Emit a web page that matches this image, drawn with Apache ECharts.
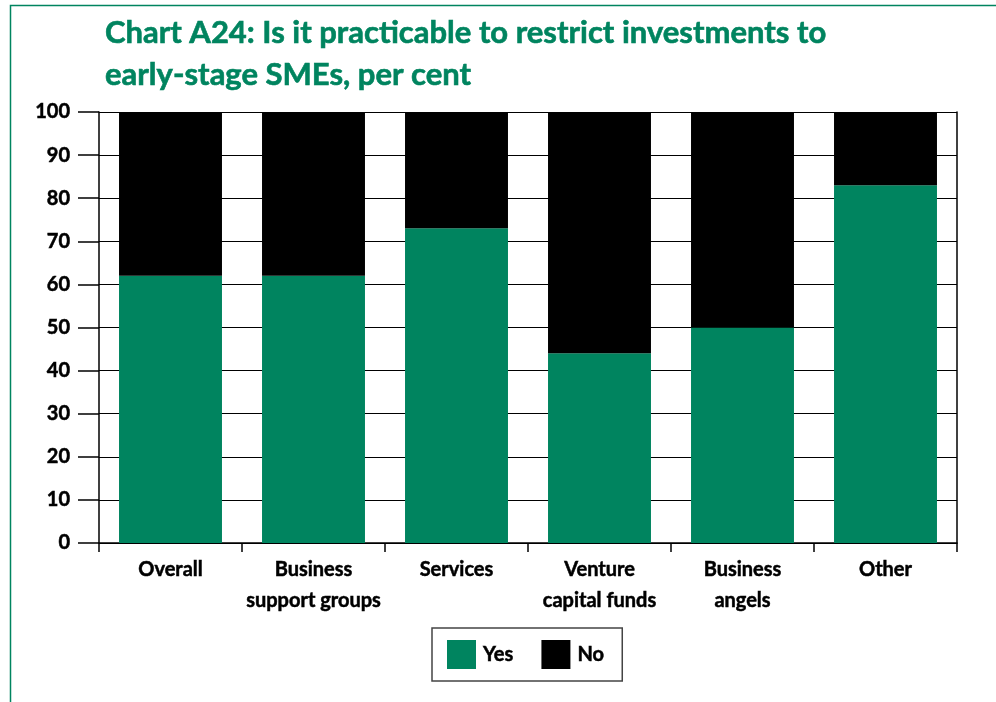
<!DOCTYPE html>
<html>
<head>
<meta charset="utf-8">
<style>
  html, body { margin: 0; padding: 0; background: #fff; }
  #chart { width: 996px; height: 702px; }
</style>
<script src="https://cdn.jsdelivr.net/npm/echarts@6/dist/echarts.min.js"></script>
</head>
<body>
<div id="chart"></div>
<script>
// Survey responses by respondent group, per cent
const categories = ['Overall', 'Business\nsupport groups', 'Services', 'Venture\ncapital funds', 'Business\nangels', 'Other'];
const yesValues = [62, 62, 73, 44, 50, 83];
const noValues = [38, 38, 27, 56, 50, 17];
const yTicks = [0, 10, 20, 30, 40, 50, 60, 70, 80, 90, 100];

const GREEN = '#00845f';
const FONT = 'Lato, "Open Sans", sans-serif';

const chart = echarts.init(document.getElementById('chart'), null, { renderer: 'canvas' });

chart.setOption({
  animation: false,
  backgroundColor: '#ffffff',
  title: {
    text: 'Chart A24: Is it practicable to restrict investments to\nearly-stage SMEs, per cent',
    left: 100,
    top: 7,
    textStyle: {
      color: GREEN,
      fontFamily: FONT,
      fontWeight: 'bold',
      fontSize: 31,
      lineHeight: 42,
      textBorderColor: GREEN,
      textBorderWidth: 0.6
    }
  },
  graphic: [
    {
      type: 'polyline',
      shape: { points: [[10.5, 702], [10.5, 5.5], [996, 5.5]] },
      style: { stroke: GREEN, lineWidth: 1.5, fill: null },
      silent: true
    }
  ],
  legend: {
    data: ['Yes', 'No'],
    left: 432,
    top: 628,
    width: 193,
    height: 55,
    padding: [12, 18, 12, 15],
    itemGap: 28,
    itemWidth: 29,
    itemHeight: 29,
    icon: 'rect',
    borderColor: '#444',
    borderWidth: 1.5,
    borderRadius: 0,
    selectedMode: false,
    textStyle: {
      fontFamily: FONT,
      fontWeight: 'bold',
      fontSize: 20,
      color: '#000',
      textBorderColor: '#000',
      textBorderWidth: 0.5,
      padding: [2, 0, 0, 2]
    }
  },
  grid: {
    left: 99,
    right: 39,
    top: 112,
    bottom: 159,
    containLabel: false
  },
  xAxis: {
    type: 'category',
    data: categories,
    boundaryGap: true,
    axisLine: { show: true, lineStyle: { color: '#000', width: 1.5 } },
    axisTick: { show: true, alignWithLabel: false, length: 9, lineStyle: { color: '#000', width: 1.5 } },
    axisLabel: {
      interval: 0,
      margin: 11,
      color: '#000',
      fontFamily: FONT,
      fontWeight: 'bold',
      fontSize: 20,
      lineHeight: 31,
      textBorderColor: '#000',
      textBorderWidth: 0.5
    }
  },
  yAxis: [
    {
      type: 'value',
      min: 0,
      max: 100,
      interval: 10,
      axisLine: { show: true, lineStyle: { color: '#000', width: 1.5 } },
      axisTick: { show: true, inside: false, length: 21, lineStyle: { color: '#000', width: 1.5 } },
      splitLine: { show: true, lineStyle: { color: '#000', width: 1 } },
      axisLabel: {
        margin: 29,
        color: '#000',
        fontFamily: FONT,
        fontWeight: 'bold',
        fontSize: 20,
        textBorderColor: '#000',
        textBorderWidth: 0.5,
        formatter: function (v) { return yTicks.indexOf(v) >= 0 ? String(v) : ''; }
      }
    },
    {
      type: 'value',
      min: 0,
      max: 100,
      interval: 10,
      position: 'right',
      axisLine: { show: true, lineStyle: { color: '#000', width: 1.5 } },
      axisTick: { show: false },
      splitLine: { show: false },
      axisLabel: { show: false }
    }
  ],
  series: [
    {
      name: 'Yes',
      type: 'bar',
      stack: 'total',
      barWidth: '72%',
      data: yesValues,
      itemStyle: { color: GREEN },
      z: 3
    },
    {
      name: 'No',
      type: 'bar',
      stack: 'total',
      barWidth: '72%',
      data: noValues,
      itemStyle: { color: '#000' },
      z: 3
    }
  ]
});
</script>
</body>
</html>
